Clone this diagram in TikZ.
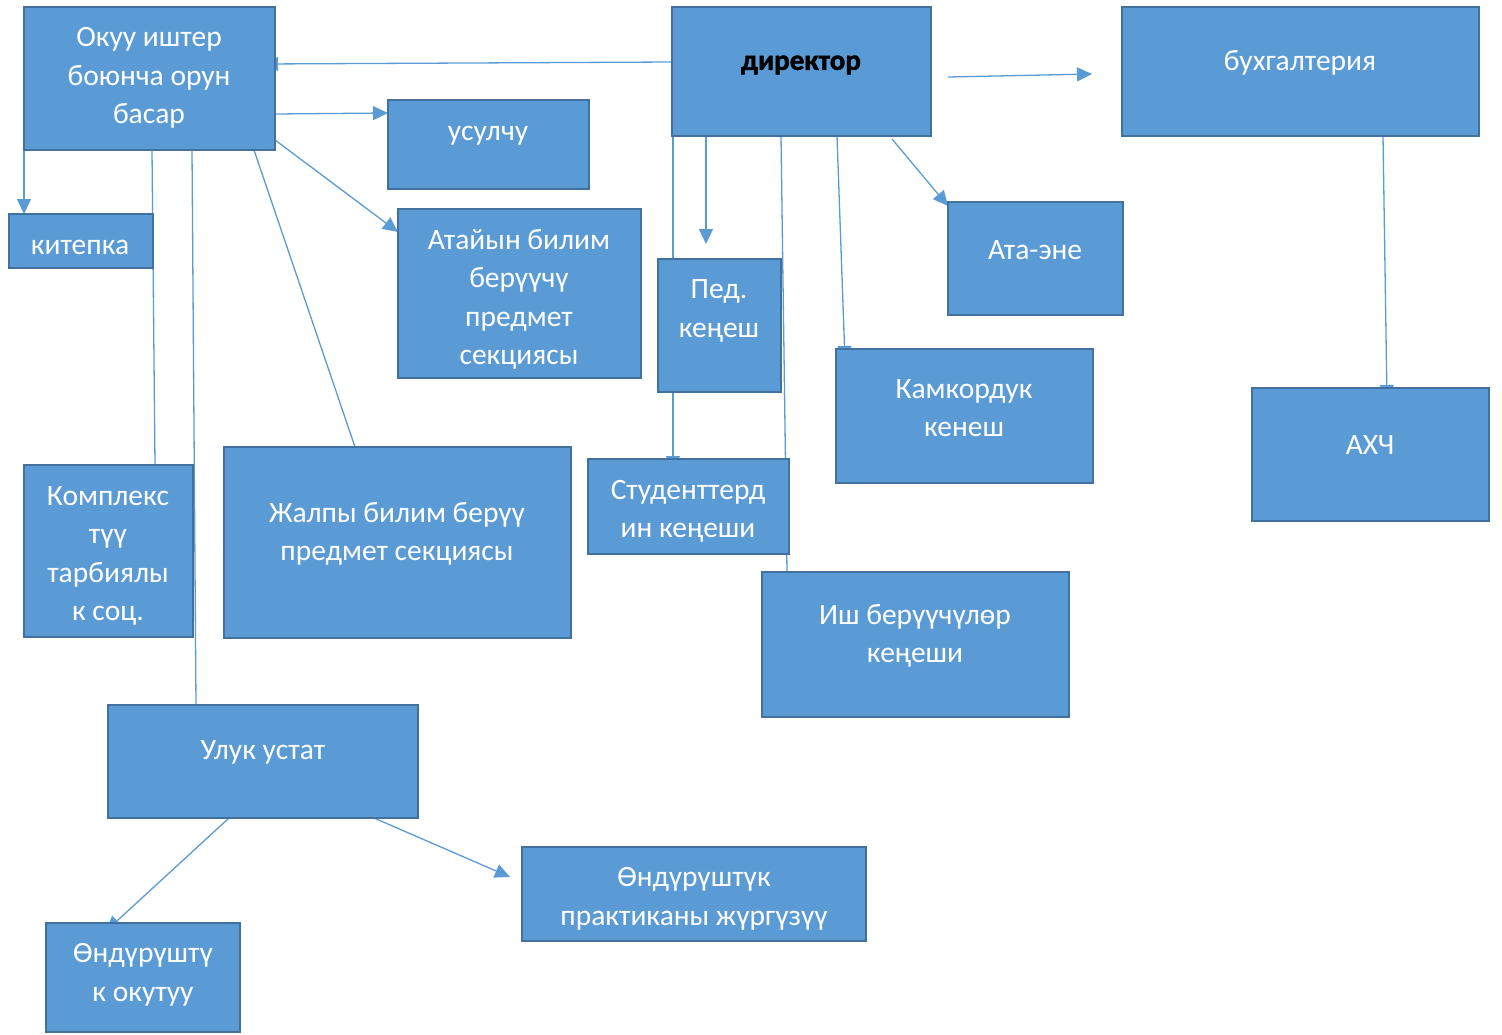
\documentclass[tikz,border=0pt]{standalone}
\usepackage{fontspec}
\setmainfont{Carlito}
\newfontfamily\heavyfont[FakeBold=1.5]{Carlito Bold}
\usetikzlibrary{arrows.meta}
\definecolor{boxfill}{HTML}{5B9BD5}
\definecolor{boxline}{HTML}{41719C}
\definecolor{conn}{HTML}{5B9BD5}
\pgfdeclarelayer{bg}
\pgfsetlayers{bg,main}
\tikzset{
  box/.style={draw=boxline, line width=2.5pt, fill=boxfill, inner sep=0pt, outer sep=0pt},
  txt/.style={text=white, align=center, inner sep=0pt, font=\fontsize{29.5}{38.5}\selectfont},
  link/.style={draw=conn, line width=1.3pt},
  arr/.style={link, -{Triangle[length=15pt,width=14pt]}},
}
\begin{document}
\begin{tikzpicture}[x=1pt,y=-1pt]
\useasboundingbox (0,0) rectangle (1502,1034);
% boxes
\node[box, minimum width=251pt, minimum height=143pt] (ok) at (149.5,78.5) {};
\node[box, minimum width=259pt, minimum height=129pt] (dir) at (801.5,71.5) {};
\node[box, minimum width=357pt, minimum height=129pt] (buh) at (1300.5,71.5) {};
\node[box, minimum width=201pt, minimum height=89pt] (usul) at (488.5,144.5) {};
\node[box, minimum width=144pt, minimum height=54pt] (kit) at (81,241) {};
\node[box, minimum width=243pt, minimum height=169pt] (atay) at (519.5,293.5) {};
\node[box, minimum width=123pt, minimum height=133pt] (ped) at (719.5,325.5) {};
\node[box, minimum width=175pt, minimum height=113pt] (ata) at (1035.5,258.5) {};
\node[box, minimum width=257pt, minimum height=134pt] (kam) at (964.5,416) {};
\node[box, minimum width=237pt, minimum height=133pt] (ahc) at (1370.5,454.5) {};
\node[box, minimum width=169pt, minimum height=172pt] (kom) at (108.5,551) {};
\node[box, minimum width=347pt, minimum height=191pt] (jal) at (397.5,542.5) {};
\node[box, minimum width=201pt, minimum height=95pt] (stu) at (688.5,506.5) {};
\node[box, minimum width=307pt, minimum height=145pt] (ish) at (915.5,644.5) {};
\node[box, minimum width=310pt, minimum height=113pt] (uluk) at (263,761.5) {};
\node[box, minimum width=344pt, minimum height=94pt] (ond) at (694,894) {};
\node[box, minimum width=194pt, minimum height=109pt] (ondk) at (143,977.5) {};
% texts
\node[txt] (t1) at (149,78) {Окуу иштер\\боюнча орун\\басар};
\node[txt, text=black, font=\fontsize{29}{36}\selectfont\heavyfont] (t2) at (801,65) {директор};
\node[txt] (t3) at (1300,62.5) {бухгалтерия};
\node[txt] (t4) at (488,135.5) {усулчу};
\node[txt] (t5) at (80,247.5) {китепка};
\node[txt] (t6) at (519,299.5) {Атайын билим\\берүүчү\\предмет\\секциясы};
\node[txt] (t7) at (719,311) {Пед.\\кеңеш};
\node[txt] (t8) at (1035,250.5) {Ата-эне};
\node[txt] (t9) at (964,408) {Камкордук\\кенеш};
\node[txt] (t10) at (1370,445.5) {АХЧ};
\node[txt] (t11) at (108,556) {Комплекс\\түү\\тарбиялы\\к соц.};
\node[txt] (t12) at (397,534) {Жалпы билим берүү\\предмет секциясы};
\node[txt] (t13) at (688,511.5) {Студенттерд\\ин кеңеши};
\node[txt] (t14) at (915,636) {Иш берүүчүлөр\\кеңеши};
\node[txt] (t15) at (263,752.5) {Улук устат};
\node[txt] (t16) at (694,899) {Өндүрүштүк\\практиканы жүргүзүү};
\node[txt] (t17) at (143,975) {Өндүрүштү\\к окутуу};
% free ends
\coordinate (h1) at ([xshift=17pt,yshift=-5.5pt]dir.east);
\coordinate (h2) at ([xshift=-30pt,yshift=-2.5pt]buh.west);
\begin{pgfonlayer}{bg}
\draw[arr] ([yshift=9.5pt]dir.west) -- ([xshift=-12pt,yshift=14.5pt]ok.east);
\draw[arr] ([yshift=-35.5pt]ok.east) -- ([yshift=31.5pt]usul.west);
\draw[arr] ([yshift=-61.5pt]ok.east) -- ([yshift=61.5pt]atay.west);
\draw[arr] ([yshift=-59.5pt]ok.west) -- ([xshift=15pt]kit.north west);
\draw[link] ([xshift=128pt]ok.south west) -- ([xshift=131pt]kom.north west);
\draw[link] ([xshift=168pt]ok.south west) -- ([xshift=88pt]uluk.north west);
\draw[link] ([xshift=230pt]ok.south west) -- ([xshift=131pt]jal.north west);
\draw[arr] (h1) -- (h2);
\draw[arr] ([xshift=1pt,yshift=11pt]dir.south west) -- ([xshift=85pt,yshift=-12pt]stu.north west);
\draw[arr] ([xshift=34pt]dir.south west) -- ([xshift=48pt,yshift=15pt]ped.north west);
\draw[link] ([xshift=109pt]dir.south west) -- ([xshift=25pt]ish.north west);
\draw[arr] ([xshift=165pt]dir.south west) -- ([xshift=9pt,yshift=-12pt]kam.north west);
\draw[arr] ([xshift=220pt,yshift=-3pt]dir.south west) -- ([yshift=-4pt]ata.north west);
\draw[arr] ([xshift=261pt]buh.south west) -- ([xshift=135pt,yshift=-12pt]ahc.north west);
\draw[arr] ([xshift=121pt]uluk.south west) -- ([xshift=60pt,yshift=-8pt]ondk.north west);
\draw[arr] ([xshift=266pt]uluk.south west) -- ([xshift=-12pt,yshift=17pt]ond.west);
\end{pgfonlayer}
\end{tikzpicture}
\end{document}
